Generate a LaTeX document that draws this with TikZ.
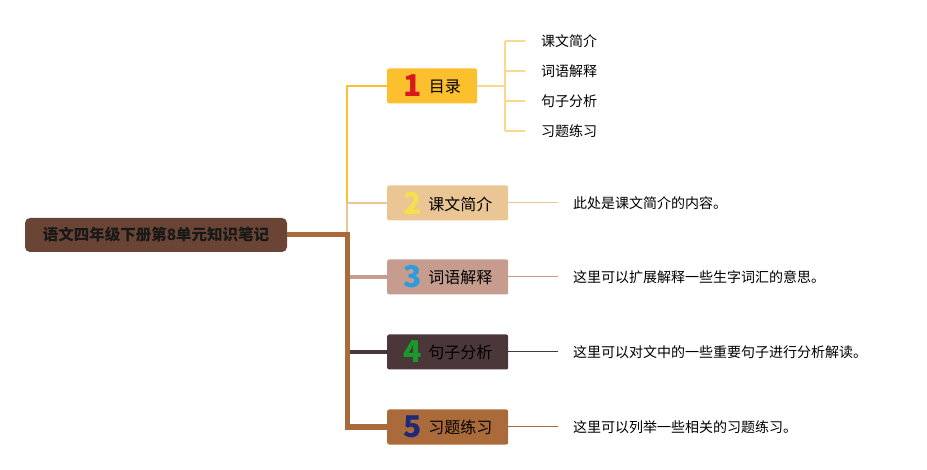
\documentclass[tikz,border=0pt]{standalone}
\usepackage{fontspec}
\setmainfont{Noto Sans CJK SC}
\usepackage{xcolor}
\usepackage{tikz}
\definecolor{racine}{HTML}{6A4434}
\definecolor{jaunebx}{HTML}{FCBF2E}
\definecolor{jauneclair}{HTML}{F9D98E}
\definecolor{beigebx}{HTML}{EAC694}
\definecolor{rosebx}{HTML}{C59C8E}
\definecolor{noirbx}{HTML}{4B363A}
\definecolor{brunbx}{HTML}{AA6A3A}
\definecolor{rougenum}{HTML}{D7191F}
\definecolor{jaunenum}{HTML}{F5E04A}
\definecolor{bleunum}{HTML}{2E9BE0}
\definecolor{vertnum}{HTML}{1A9A2A}
\definecolor{marinenum}{HTML}{1E2A78}
\usetikzlibrary{positioning}
\newcommand{\numero}[2]{\raisebox{-4pt}{\bfseries\fontsize{30}{30}\selectfont\color{#1}#2}\hspace{7pt}}
\tikzset{
  topic/.style={fill=#1, rounded corners=2pt, minimum width=121pt, minimum height=35pt,
    inner ysep=0pt, anchor=west, text=black, font=\fontsize{16}{16}\selectfont},
  detail/.style={anchor=west, inner sep=0pt, font=\fontsize{14}{14}\selectfont},
  lien/.style={draw=#1, line width=1pt, shorten >=15pt}
}

\begin{document}
\begin{tikzpicture}[x=1pt,y=-1pt]
        \useasboundingbox (0,0) rectangle (927,470);
        \node[fill=racine, rounded corners=5pt, minimum width=262pt, minimum height=34pt,
            text=black!90, font=\bfseries\fontsize{15.5}{15.5}\selectfont] (root) at (156,235) {语文四年级下册第8单元知识笔记};
        \node[topic=jaunebx, minimum width=90pt] (t1) at (387,86) {\numero{rougenum}{1}目录};
        \node[topic=beigebx] (t2) at (387,203) {\numero{jaunenum}{2}课文简介};
        \node[topic=rosebx] (t3) at (387,277) {\numero{bleunum}{3}词语解释};
        \node[topic=noirbx] (t4) at (387,352) {\numero{vertnum}{4}句子分析};
        \node[topic=brunbx] (t5) at (387,427) {\numero{marinenum}{5}习题练习};
        \node[detail] (s1) at (541,41) {课文简介};
        \node[detail] (s2) at (541,71) {词语解释};
        \node[detail] (s3) at (541,101) {句子分析};
        \node[detail] (s4) at (541,131) {习题练习};
        \node[detail] (d2) at (573,203) {此处是课文简介的内容。};
        \node[detail] (d3) at (573,277) {这里可以扩展解释一些生字词汇的意思。};
        \node[detail] (d4) at (573,352) {这里可以对文中的一些重要句子进行分析解读。};
        \node[detail] (d5) at (573,427) {这里可以列举一些相关的习题练习。};
        \coordinate (j) at (347,235);
        \coordinate (b) at (505,86);
        \draw[beigebx, line width=2pt] (j) |- (t2.west);
        \draw[jaunebx, line width=2pt] (j |- t2.west) |- (t1.west);
        \draw[rosebx, line width=4pt] (j |- t3.west) -- (t3.west);
        \draw[noirbx, line width=4pt] (j |- t4.west) -- (t4.west);
        \draw[brunbx, line width=5pt] (root.east) -- (j) |- (t5.west);
        \draw[jauneclair, line width=1.5pt] (t1.east) -- (b);
        \draw[jauneclair, line width=1.5pt] (b |- s1.west) -- (b |- s4.west);
        \foreach \s in {s1,s2,s3,s4}
            \draw[jauneclair, line width=1.5pt, shorten >=16pt] (b |- \s.west) -- (\s.west);
        \draw[lien=beigebx] (t2.east) -- (d2.west);
        \draw[lien=rosebx] (t3.east) -- (d3.west);
        \draw[lien=noirbx] (t4.east) -- (d4.west);
        \draw[lien=brunbx] (t5.east) -- (d5.west);
\end{tikzpicture}
\end{document}
